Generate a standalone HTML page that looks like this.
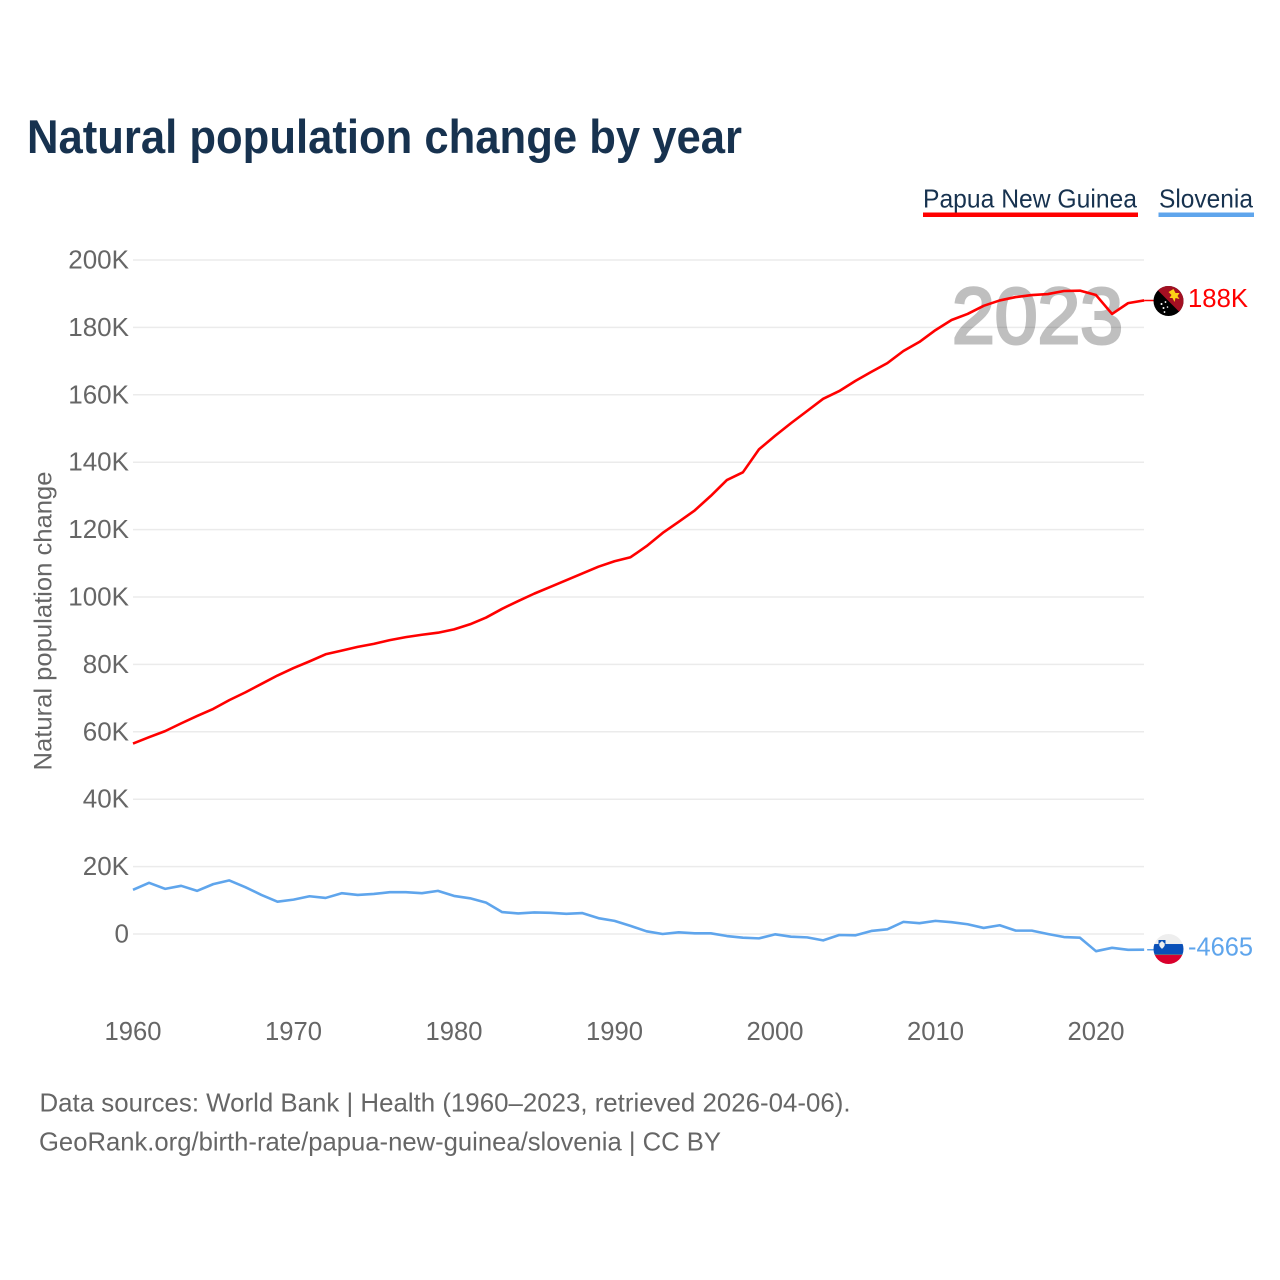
<!DOCTYPE html>
<html lang="en">
<head>
<meta charset="utf-8">
<title>Natural population change by year</title>
<style>
html,body{margin:0;padding:0;background:#fff;width:1280px;height:1280px;overflow:hidden}
svg{display:block}
text{font-family:"Liberation Sans",sans-serif}
</style>
</head>
<body>
<svg id="chart" xmlns="http://www.w3.org/2000/svg" width="1280" height="1280" viewBox="0 0 1280 1280">
  <defs>
    <clipPath id="flag-clip"><circle cx="0" cy="0" r="15"/></clipPath>
  </defs>
  <rect width="1280" height="1280" fill="#fff"/>
  <text x="27" y="153" font-size="47" font-weight="700" fill="#17324f" textLength="715" lengthAdjust="spacingAndGlyphs">Natural population change by year</text>

  <g>
    <g>
      <text x="923" y="207.500" font-size="26" fill="#17324f" textLength="214" lengthAdjust="spacingAndGlyphs">Papua New Guinea</text>
      <rect x="923" y="212.500" width="215" height="4.500" fill="#ff0000"/>
    </g>
    <g>
      <text x="1159" y="207.500" font-size="26" fill="#17324f" textLength="94" lengthAdjust="spacingAndGlyphs">Slovenia</text>
      <rect x="1158.500" y="212.500" width="95.500" height="4.500" fill="#5fa5ec"/>
    </g>
  </g>

  <g id="grid"></g>
  <g id="y-axis"></g>
  <g id="x-axis"></g>
  <text x="0" y="0" transform="translate(51.500,770.500) rotate(-90)" font-size="25" fill="#666" textLength="299" lengthAdjust="spacingAndGlyphs">Natural population change</text>

  <text x="1123" y="343" text-anchor="end" font-size="79" fill="#bfbfbf" stroke="#bfbfbf" stroke-width="3" textLength="171" lengthAdjust="spacingAndGlyphs" style="mix-blend-mode:multiply">2023</text>

  <g id="series"></g>

  <g id="flag-png">
    <g clip-path="url(#flag-clip)">
      <rect x="-15" y="-15" width="30" height="30" fill="#000"/>
      <polygon points="-15,-15 15,-15 15,15" fill="#a30f22"/>
      <path d="M0,-9 L5,-12 L7,-8 L11,-8 L9,-5 L11,-2 L7,-3 L6,1 L4,-3 L1,-3 L3,-6 Z" fill="#fcd116"/>
      <g fill="#fff">
        <circle cx="-7" cy="3" r="1"/><circle cx="-3" cy="1" r="0.900"/>
        <circle cx="-5" cy="7" r="1"/><circle cx="-1" cy="6" r="0.800"/><circle cx="-4" cy="11" r="0.900"/>
      </g>
    </g>
  </g>
  <g id="flag-svn">
    <g clip-path="url(#flag-clip)">
      <rect x="-15" y="-15" width="30" height="10.500" fill="#eeeeee"/>
      <rect x="-15" y="-5" width="30" height="11" fill="#0a50b8"/>
      <rect x="-15" y="5" width="30" height="1" fill="#5a6a80"/>
      <rect x="-15" y="6" width="30" height="9" fill="#d9002c"/>
      <path d="M-10,-9 H-3 V-4 Q-3,-1 -6.500,0.500 Q-10,-1 -10,-4 Z" fill="#0a50b8"/>
      <path d="M-9.200,-5.500 L-6.500,-8 L-3.800,-5.500 V-3.500 Q-5,-1 -6.500,-0.300 Q-8,-1 -9.200,-3.500 Z" fill="#eeeeee"/>
    </g>
  </g>
  <text id="label-png" x="1188" font-size="26" fill="#ff0000" textLength="60" lengthAdjust="spacingAndGlyphs"></text>
  <text id="label-svn" x="1188" font-size="26" fill="#5fa5ec" textLength="65" lengthAdjust="spacingAndGlyphs"></text>

  <g>
    <text x="39.500" y="1111.500" font-size="26" fill="#666" textLength="811" lengthAdjust="spacingAndGlyphs">Data sources: World Bank | Health (1960–2023, retrieved 2026-04-06).</text>
    <text x="39" y="1150.500" font-size="26" fill="#666" textLength="682" lengthAdjust="spacingAndGlyphs">GeoRank.org/birth-rate/papua-new-guinea/slovenia | CC BY</text>
  </g>
</svg>
<script>
const firstYear = 1960;
const yTickValues = [0, 20, 40, 60, 80, 100, 120, 140, 160, 180, 200];
const yTickLabels = ["0", "20K", "40K", "60K", "80K", "100K", "120K", "140K", "160K", "180K", "200K"];
const xTickValues = [1960, 1970, 1980, 1990, 2000, 2010, 2020];
const xTickLabels = ["1960", "1970", "1980", "1990", "2000", "2010", "2020"];
const papuaValues = [56.5,58.4,60.2,62.5,64.7,66.8,69.4,71.7,74.2,76.7,78.9,80.9,83.0,84.1,85.2,86.1,87.2,88.1,88.8,89.4,90.4,91.9,93.9,96.5,98.8,101.0,103.0,105.0,107.0,109.0,110.6,111.8,115.1,119.0,122.3,125.7,130.0,134.7,137.0,143.8,147.8,151.6,155.2,158.8,161.1,164.1,166.8,169.4,173.0,175.7,179.2,182.2,184.0,186.4,188.0,189.0,189.6,189.9,190.8,190.9,189.6,184.0,187.2,188.0];
const sloveniaValues = [13.1,15.2,13.4,14.3,12.8,14.8,15.9,13.9,11.6,9.6,10.2,11.2,10.7,12.1,11.6,11.9,12.4,12.4,12.1,12.8,11.3,10.6,9.3,6.5,6.1,6.4,6.3,6.0,6.2,4.7,3.9,2.4,0.8,0,0.5,0.2,0.2,-0.6,-1.1,-1.3,-0.1,-0.8,-1.0,-1.9,-0.3,-0.4,0.9,1.4,3.6,3.2,3.9,3.5,2.9,1.8,2.6,1.0,1.0,0,-0.9,-1.1,-5.1,-4.1,-4.7,-4.665];
const papuaEndLabel = "188K";
const sloveniaEndLabel = "-4665";

const NS = "http://www.w3.org/2000/svg";
const xScale = function (year) { return 133 + (year - 1960) * 16.05; };
const yScale = function (value) { return 934 - value * 3.37; };

function make(parent, tag, attrs) {
  const el = document.createElementNS(NS, tag);
  for (const k in attrs) el.setAttribute(k, attrs[k]);
  parent.appendChild(el);
  return el;
}

const grid = document.getElementById("grid");
const yAxis = document.getElementById("y-axis");
const xAxis = document.getElementById("x-axis");
const seriesLayer = document.getElementById("series");

yTickValues.forEach(function (v, i) {
  const line = make(grid, "line", { x1: 133, x2: 1144, y1: yScale(v), y2: yScale(v), stroke: "#ebebeb", "stroke-width": 1.5 });
  
  
  const t = make(yAxis, "text", { x: 129, y: yScale(v) + 8.5, "text-anchor": "end", "font-size": 26, fill: "#666" });
  
  
  t.textContent = yTickLabels[i];
});

xTickValues.forEach(function (v, i) {
  const t = make(xAxis, "text", { x: xScale(v), y: 1040, "text-anchor": "middle", "font-size": 25.6, fill: "#666" });
  
  
  t.textContent = xTickLabels[i];
});

function pathFor(values) {
  return values.map(function (v, i) {
    return (i ? "L" : "M") + xScale(firstYear + i).toFixed(2) + "," + yScale(v).toFixed(2);
  }).join(" ");
}

const lastYear = firstYear + papuaValues.length - 1;
const flagX = 1168.5;

const sloveniaLine = make(seriesLayer, "path", { d: pathFor(sloveniaValues), fill: "none", stroke: "#5fa5ec", "stroke-width": 2.6, "stroke-linejoin": "round" });



const papuaLine = make(seriesLayer, "path", { d: pathFor(papuaValues), fill: "none", stroke: "#ff0000", "stroke-width": 2.6, "stroke-linejoin": "round" });



const pngEndY = yScale(papuaValues[papuaValues.length - 1]);
const svnEndY = yScale(sloveniaValues[sloveniaValues.length - 1]);

const pngLink = make(seriesLayer, "line", { x1: xScale(lastYear), x2: flagX, y1: pngEndY, y2: pngEndY, stroke: "#ff0000", "stroke-width": 1.5 });



const svnLink = make(seriesLayer, "line", { x1: xScale(lastYear) + 3, x2: flagX, y1: svnEndY, y2: svnEndY, stroke: "#5fa5ec", "stroke-width": 1.5 });



document.getElementById("flag-png").setAttribute("transform", "translate(" + flagX + "," + (pngEndY + 0.6) + ")");
document.getElementById("flag-svn").setAttribute("transform", "translate(" + flagX + "," + (svnEndY - 0.7) + ")");

const labelPng = document.getElementById("label-png");
labelPng.setAttribute("y", pngEndY + 6.6);
labelPng.textContent = papuaEndLabel;
const labelSvn = document.getElementById("label-svn");
labelSvn.setAttribute("y", svnEndY + 5.8);
labelSvn.textContent = sloveniaEndLabel;
</script>
</body>
</html>
